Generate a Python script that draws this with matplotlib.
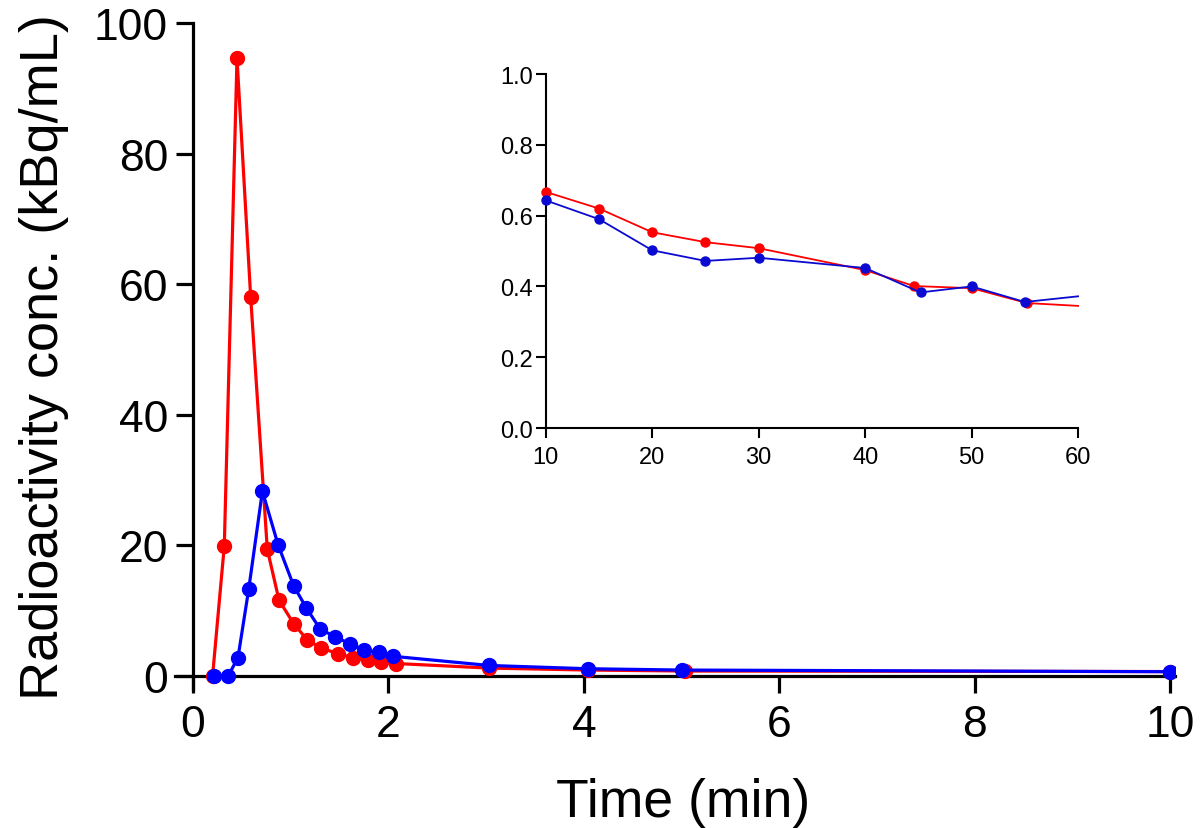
import matplotlib
matplotlib.use("Agg")
import matplotlib.pyplot as plt
from matplotlib import font_manager

names = {f.name for f in font_manager.fontManager.ttflist}
FONT = "Liberation Sans Narrow" if "Liberation Sans Narrow" in names else "Liberation Sans"
plt.rcParams['font.family'] = [FONT, 'DejaVu Sans']

# Time points (min) and radioactivity concentrations (kBq/mL)
t_red = [0.20, 0.32, 0.45, 0.59, 0.76, 0.88, 1.03, 1.17, 1.31, 1.48, 1.64, 1.79, 1.92, 2.08,
         3.03, 4.04, 5.04, 10, 15, 20, 25, 30, 40, 44.6, 50, 55.2, 60]
c_red = [0.0, 19.9, 94.6, 58.0, 19.4, 11.6, 8.0, 5.5, 4.3, 3.4, 2.8, 2.4, 2.1, 1.9,
         1.2, 0.9, 0.75, 0.667, 0.62, 0.553, 0.525, 0.508, 0.446, 0.401, 0.395, 0.353, 0.345]

t_blue = [0.21, 0.36, 0.46, 0.57, 0.71, 0.87, 1.03, 1.16, 1.30, 1.45, 1.61, 1.75, 1.90, 2.05,
          3.03, 4.04, 5.0, 10, 15, 20, 25, 30, 40, 45.2, 50, 55, 60]
c_blue = [0.0, 0.0, 2.8, 13.3, 28.3, 20.1, 13.8, 10.4, 7.2, 6.0, 4.9, 4.0, 3.6, 3.0,
          1.6, 1.1, 0.9, 0.643, 0.59, 0.502, 0.472, 0.481, 0.452, 0.383, 0.400, 0.356, 0.372]

main_xticks = [0, 2, 4, 6, 8, 10]
main_yticks = [0, 20, 40, 60, 80, 100]
inset_xticks = [10, 20, 30, 40, 50, 60]
inset_yticks = [0.0, 0.2, 0.4, 0.6, 0.8, 1.0]

RED = "#ff0000"
BLUE = "#0000ff"
BLUE2 = "#0a0ad0"

fig = plt.figure(figsize=(12, 8.29), dpi=100)
ax = fig.add_axes([0.1462, 0.1677, 0.833, 0.8034])
ax.plot(t_red, c_red, color=RED, lw=2.3, marker='o', ms=10, zorder=3)
ax.plot(t_blue, c_blue, color=BLUE, lw=2.3, marker='o', ms=10, zorder=4)
ax.set_xlim(-0.18, 10.05)
ax.set_ylim(-2, 100)
ax.spines['top'].set_visible(False)
ax.spines['right'].set_visible(False)
ax.spines['left'].set_position(('data', 0))
ax.spines['bottom'].set_position(('data', 0))
for s in ('left', 'bottom'):
    ax.spines[s].set_linewidth(2.3)
ax.set_xticks(main_xticks)
ax.set_yticks(main_yticks)
ax.set_xticklabels([str(v) for v in main_xticks])
ax.set_yticklabels([str(v) for v in main_yticks])
ax.tick_params(axis='both', direction='out', length=12, width=2.3, labelsize=32, pad=6)
ax.tick_params(axis='x', pad=8)
ax.set_xlabel("Time (min)", fontsize=38.5, va='baseline')
ax.xaxis.set_label_coords(0.569, 0.0145, transform=fig.transFigure)
ax.set_ylabel("Radioactivity conc. (kBq/mL)", fontsize=39, labelpad=18)

ins = fig.add_axes([0.4548, 0.4825, 0.4436, 0.427])
k = 17  # first point at 10 min
n_mark = len(t_red) - k - 1
ins.plot(t_red[k:], c_red[k:], color=RED, lw=1.3, marker='o', ms=6.5,
         markevery=list(range(n_mark)), zorder=3, clip_on=False)
ins.plot(t_blue[k:], c_blue[k:], color=BLUE2, lw=1.3, marker='o', ms=6.5,
         markevery=list(range(n_mark)), zorder=4, clip_on=False)
ins.set_xlim(10, 60)
ins.set_ylim(0, 1.0)
ins.spines['top'].set_visible(False)
ins.spines['right'].set_visible(False)
for s in ('left', 'bottom'):
    ins.spines[s].set_linewidth(1.5)
ins.set_xticks(inset_xticks)
ins.set_yticks(inset_yticks)
ins.set_xticklabels([str(v) for v in inset_xticks])
ins.set_yticklabels([f"{v:.1f}" for v in inset_yticks])
ins.tick_params(axis='both', direction='out', length=7, width=1.5, labelsize=17, pad=2)
ins.tick_params(axis='x', pad=6)
ins.patch.set_alpha(0)

fig.savefig("out.png", dpi=100)
